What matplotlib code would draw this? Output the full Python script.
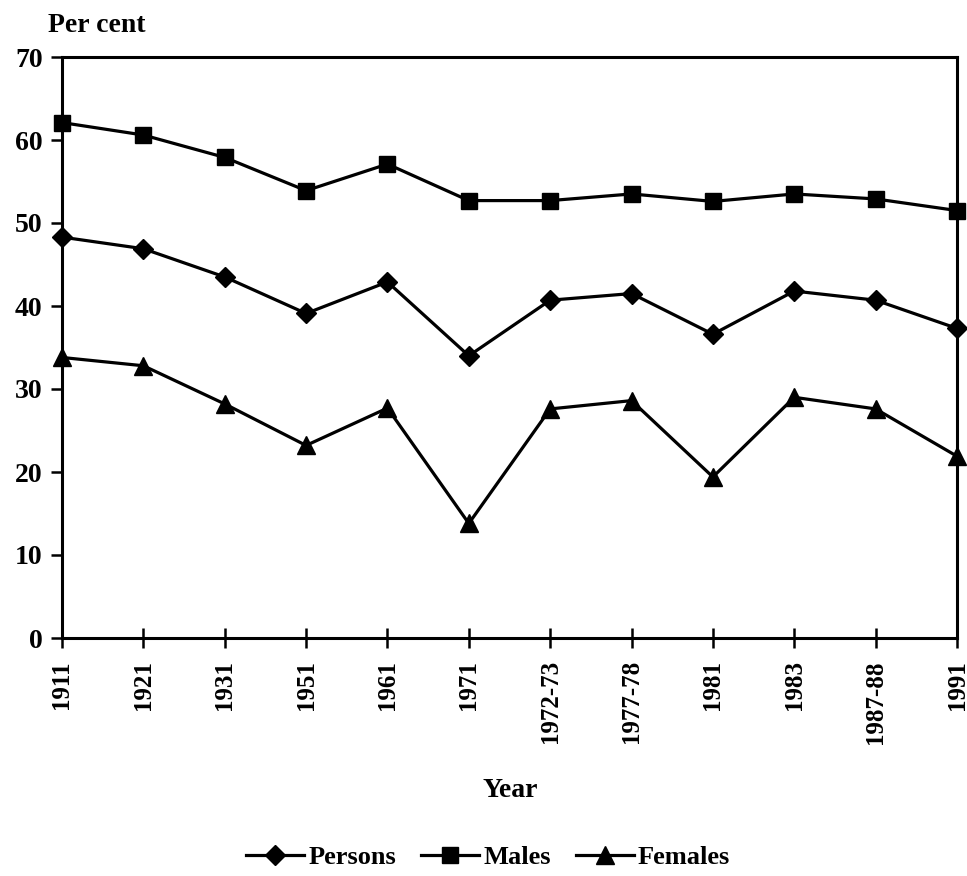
import matplotlib
matplotlib.use("Agg")
from matplotlib import pyplot as plt

# values (per cent)
years = ["1911", "1921", "1931", "1951", "1961", "1971", "1972-73",
         "1977-78", "1981", "1983", "1987-88", "1991"]
persons = [48.3, 46.9, 43.5, 39.1, 42.9, 34.0, 40.7, 41.5, 36.6, 41.8, 40.7, 37.3]
males = [62.1, 60.6, 57.9, 53.9, 57.1, 52.7, 52.7, 53.5, 52.6, 53.5, 52.9, 51.5]
females = [33.8, 32.8, 28.2, 23.2, 27.7, 13.8, 27.6, 28.6, 19.4, 29.0, 27.6, 21.9]
yticks = [0, 10, 20, 30, 40, 50, 60, 70]

plt.rcParams["font.family"] = ["Liberation Serif", "DejaVu Serif"]
plt.rcParams["font.weight"] = "bold"

fig = plt.figure(figsize=(9.67, 8.76), dpi=100)
# axes box: left spine x=62, right x=957, top y=57, bottom y=638 (pixels)
ax = fig.add_axes([62 / 967, 1 - 638 / 876, 895 / 967, 581 / 876])

x = list(range(len(years)))
ax.plot(x, persons, color="black", lw=2.3, marker="D", ms=10, clip_on=False, label="Persons")
ax.plot(x, males, color="black", lw=2.3, marker="s", ms=11.5, clip_on=False, label="Males")
ax.plot(x, females, color="black", lw=2.3, marker="^", ms=13, clip_on=False, label="Females")

ax.set_xlim(0, len(years) - 1)
ax.set_ylim(0, 70)
ax.set_yticks(yticks)
ax.set_xticks(x)
ax.set_xticklabels(years, rotation=90, fontsize=18)
ax.tick_params(axis="y", direction="out", length=8, width=1.8, labelsize=20, pad=6)
ax.tick_params(axis="x", direction="inout", length=14, width=1.8, pad=9)

for s in ax.spines.values():
    s.set_linewidth(2.2)

fig.text(510 / 967, 1 - 797 / 876, "Year", fontsize=20, ha="center", va="baseline")
fig.text(48 / 967, 1 - 32 / 876, "Per cent", fontsize=20, ha="left", va="baseline")

fig.legend(loc="center", bbox_to_anchor=(488 / 967, 1 - 857 / 876), ncol=3, frameon=False,
           fontsize=19, handlelength=2.2, handletextpad=0.15, columnspacing=0.95)

fig.savefig("out.png", dpi=100)
